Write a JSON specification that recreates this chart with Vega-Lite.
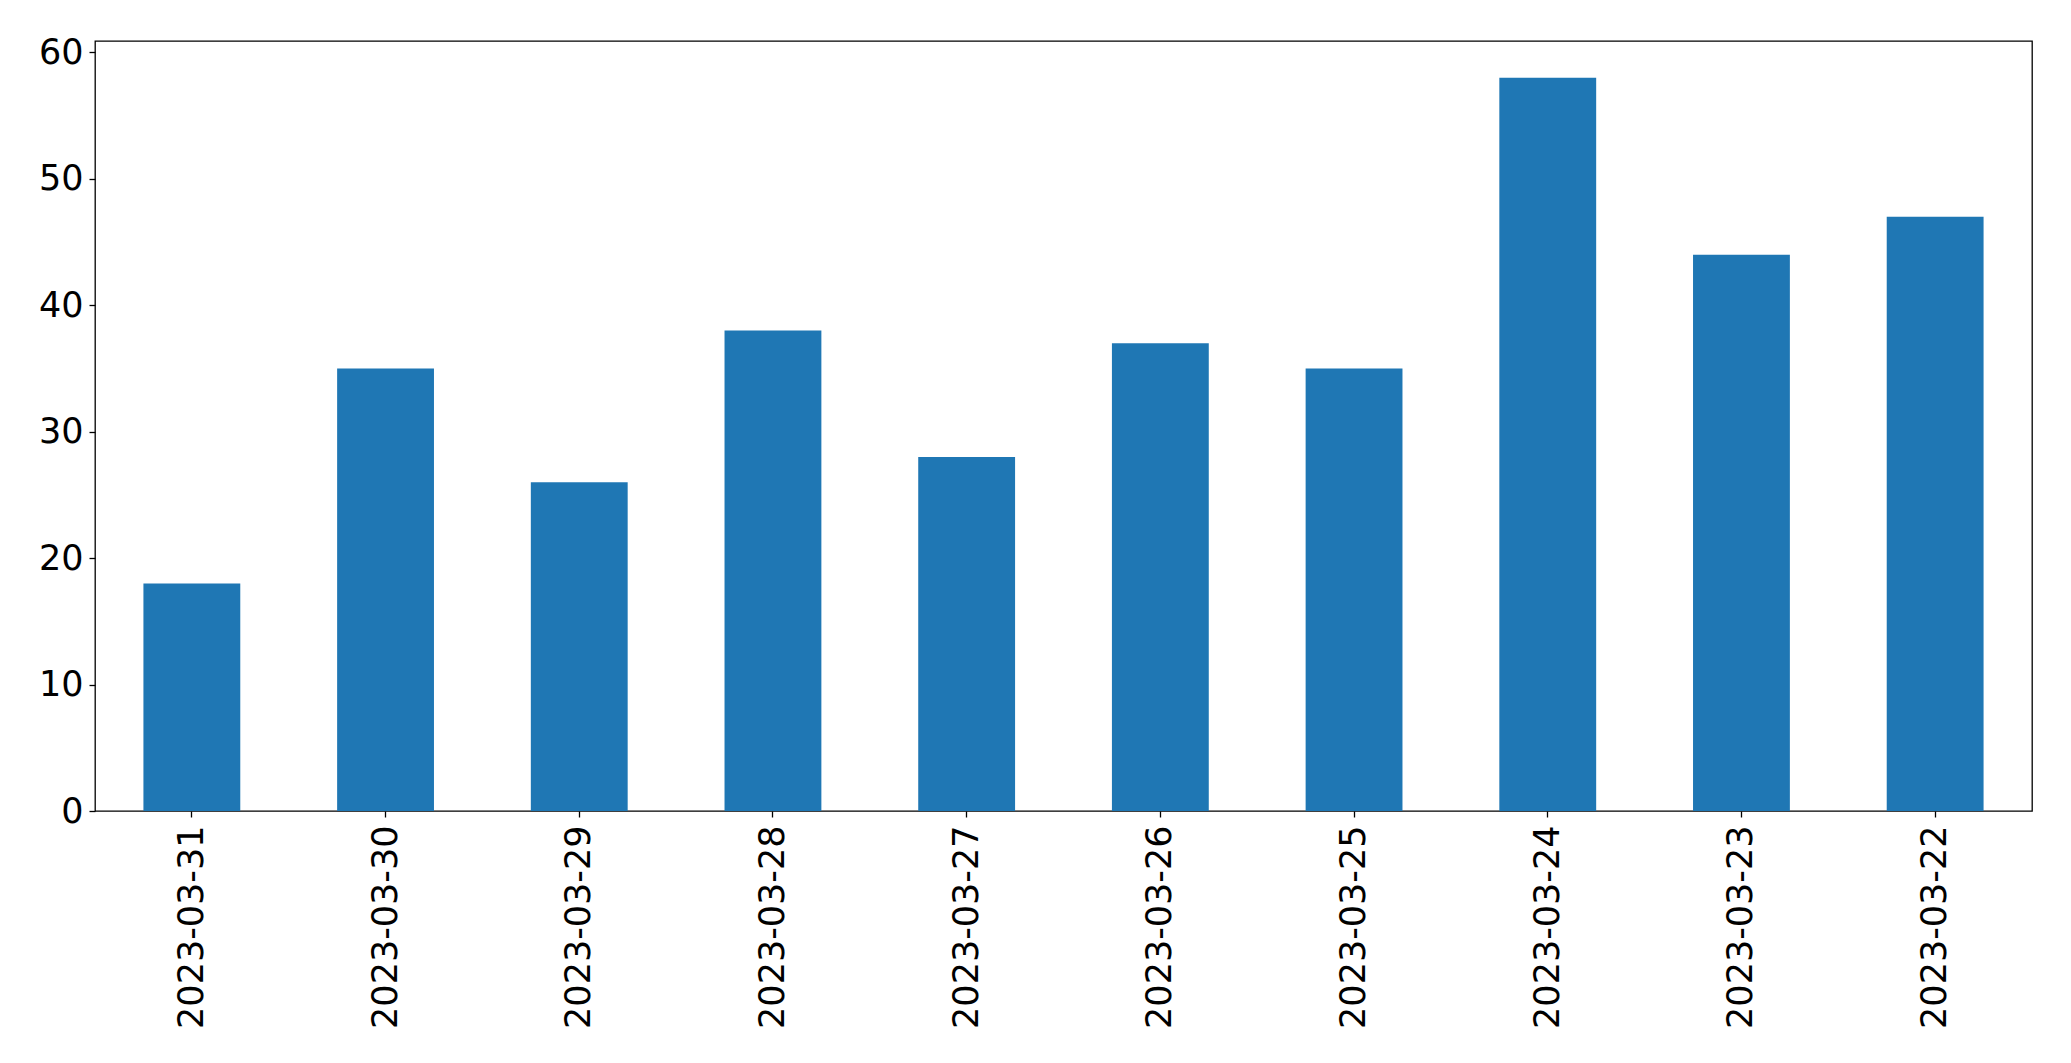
{
  "$schema": "https://vega.github.io/schema/vega-lite/v6.json",
  "autosize": "none",
  "padding": {"left": 95, "top": 41, "right": 39, "bottom": 252},
  "width": 1937,
  "height": 770,
  "background": "white",
  "data": {
    "values": [
      {"date": "2023-03-31", "count": 18},
      {"date": "2023-03-30", "count": 35},
      {"date": "2023-03-29", "count": 26},
      {"date": "2023-03-28", "count": 38},
      {"date": "2023-03-27", "count": 28},
      {"date": "2023-03-26", "count": 37},
      {"date": "2023-03-25", "count": 35},
      {"date": "2023-03-24", "count": 58},
      {"date": "2023-03-23", "count": 44},
      {"date": "2023-03-22", "count": 47}
    ]
  },
  "mark": {"type": "bar", "color": "#1f77b4"},
  "encoding": {
    "x": {
      "field": "date",
      "type": "nominal",
      "sort": null,
      "title": null,
      "scale": {"paddingInner": 0.5, "paddingOuter": 0.25},
      "axis": {
        "labelAngle": 270,
        "labelPadding": 8,
        "labelLimit": 0,
        "domain": false,
        "grid": false
      }
    },
    "y": {
      "field": "count",
      "type": "quantitative",
      "title": null,
      "scale": {"domain": [0, 60.9], "nice": false},
      "axis": {
        "values": [0, 10, 20, 30, 40, 50, 60],
        "labelPadding": 6,
        "domain": false,
        "grid": false
      }
    }
  },
  "config": {
    "view": {"stroke": "black", "strokeWidth": 1.3},
    "axis": {
      "labelFont": "DejaVu Sans",
      "labelFontSize": 35,
      "labelColor": "black",
      "tickColor": "black",
      "tickSize": 6,
      "tickWidth": 1.3,
      "labelFlush": false,
      "labelOverlap": false
    }
  }
}
